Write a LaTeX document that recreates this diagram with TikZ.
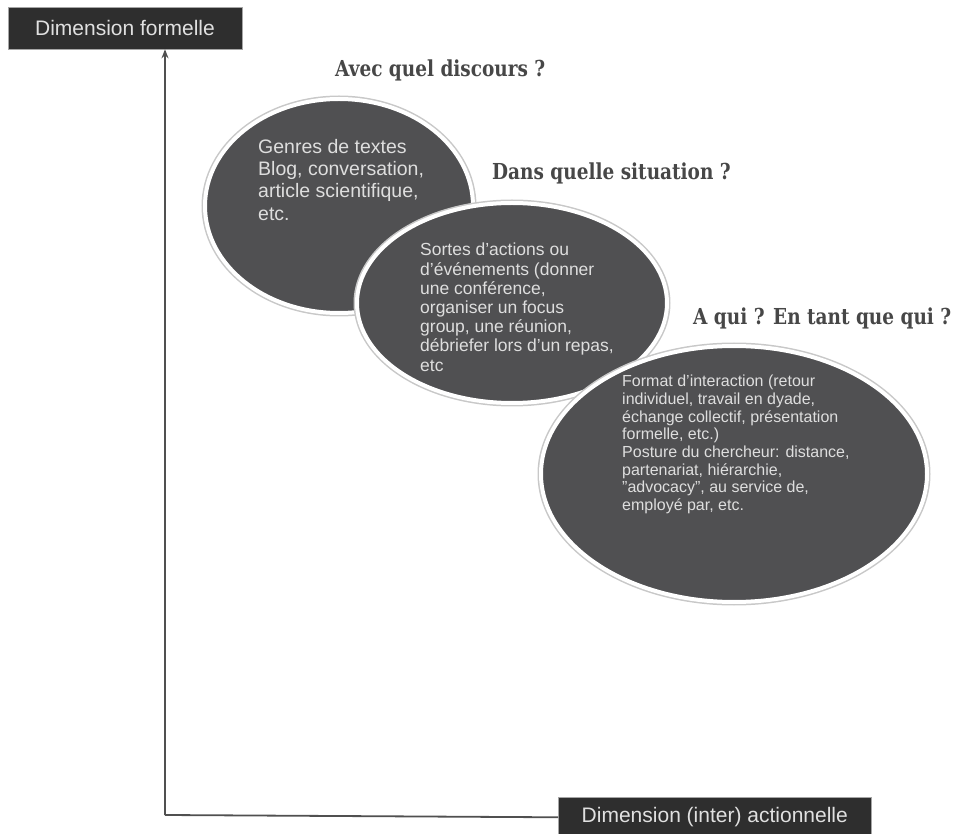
\documentclass[tikz,border=0pt]{standalone}
\usepackage{fontspec}
\setmainfont{Liberation Sans}
\newfontfamily\titlefont[FakeStretch=0.84]{DejaVu Serif}
\usetikzlibrary{shapes.geometric,arrows.meta}
\definecolor{ellfill}{HTML}{505052}
\definecolor{halo}{HTML}{C8C8C8}
\definecolor{boxfill}{HTML}{2E2E2E}
\definecolor{axisline}{HTML}{505050}
\definecolor{titlecol}{HTML}{474747}
\definecolor{elltext}{HTML}{DEDEDE}
\tikzset{
  ell/.style={ellipse, fill=ellfill, draw=white, line width=4pt, inner sep=0pt,
    preaction={draw=halo, line width=7pt}},
  elltxt/.style={anchor=north west, inner sep=0pt, align=left, text=elltext},
  dimbox/.style={rectangle, fill=boxfill, draw=gray!70, line width=0.6pt, text=white!88!black,
    font=\fontsize{21}{24}\selectfont, inner sep=0pt},
  titletxt/.style={anchor=base west, inner sep=0pt, text=titlecol,
    font=\titlefont\bfseries\fontsize{22}{26}\selectfont},
  axis/.style={draw=axisline, line width=1.8pt}
}
\begin{document}
\begin{tikzpicture}[x=1pt,y=-1pt]
\useasboundingbox (0,0) rectangle (954,834);
% axis boxes
\node[dimbox, minimum width=234pt, minimum height=42pt] (fx) at (125,28) {Dimension formelle};
\node[dimbox, minimum width=313pt, minimum height=40pt, anchor=north west] (ax) at (558,797) {Dimension (inter) actionnelle};
\coordinate (origin) at (165,815);
\draw[axis,-{Stealth[length=9pt,width=7pt]}] (origin) -- (fx.south -| origin);
\draw[axis] (origin) -- (ax.west);
% ellipse 1
\node[ell, minimum width=268pt, minimum height=214pt] (e1) at (339,206) {};
\node[elltxt, font=\fontsize{19.5}{22.3}\selectfont] (t1) at (258,139)
  {Genres de textes\\Blog, conversation,\\article scientifique,\\etc.};
% ellipse 2
\node[ell, minimum width=310pt, minimum height=200pt] (e2) at (512,303) {};
\node[elltxt, font=\fontsize{17.5}{19.2}\selectfont] (t2) at (420,243)
  {Sortes d'actions ou\\d'événements (donner\\une conférence,\\organiser un focus\\group, une réunion,\\débriefer lors d'un repas,\\etc};
% ellipse 3
\node[ell, minimum width=386pt, minimum height=256pt] (e3) at (734,474) {};
\node[elltxt, font=\fontsize{16}{17.7}\selectfont] (t3) at (622,375)
  {Format d'interaction (retour\\individuel, travail en dyade,\\échange collectif, présentation\\formelle, etc.)\\Posture du chercheur: distance,\\partenariat, hiérarchie,\\"advocacy", au service de,\\employé par, etc.};
% titles
\node[titletxt] (q1) at (335,77) {Avec quel discours ?};
\node[titletxt] (q2) at (492,180) {Dans quelle situation ?};
\node[titletxt] (q3) at (693,325) {A qui ? En tant que qui ?};
\end{tikzpicture}
\end{document}
